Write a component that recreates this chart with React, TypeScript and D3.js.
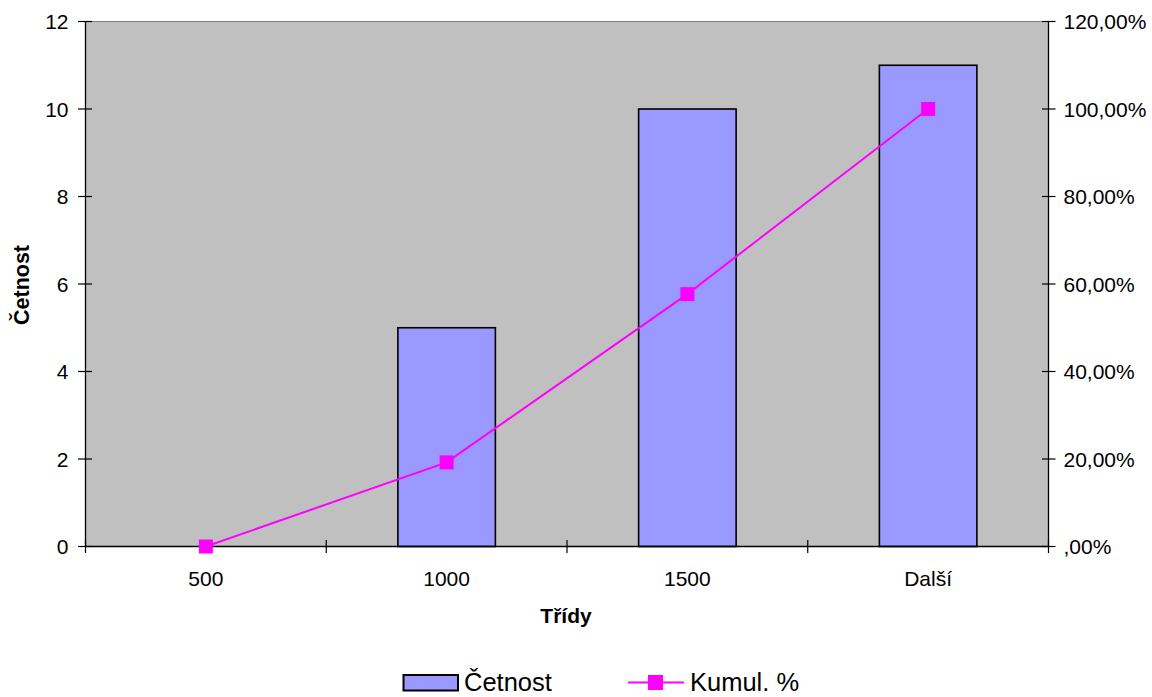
import React from "react";
import * as d3 from "d3";

// Frequency histogram with cumulative percentage (Pareto-style)
const categories: string[] = ["500", "1000", "1500", "Další"];
const counts: number[] = [0, 5, 10, 11];
const cumulativePct: number[] = [0, 19.23, 57.69, 100];

const leftTicks: number[] = [0, 2, 4, 6, 8, 10, 12];
const rightTicks: number[] = [0, 20, 40, 60, 80, 100, 120];
const rightTickLabels: string[] = [",00%", "20,00%", "40,00%", "60,00%", "80,00%", "100,00%", "120,00%"];

const W = 1152;
const H = 697;
const plot = { left: 85.5, right: 1048.5, top: 21.5, bottom: 546.5 };

const FONT = "'Liberation Sans', Arial, Helvetica, sans-serif";
const BAR_FILL = "#9999FF";
const LINE_COLOR = "#FF00FF";
const PLOT_BG = "#C0C0C0";

export default function App() {
  const x = d3.scaleBand<string>().domain(categories).range([plot.left, plot.right]).padding(0);
  const yLeft = d3.scaleLinear().domain([0, 12]).range([plot.bottom, plot.top]);
  const yRight = d3.scaleLinear().domain([0, 120]).range([plot.bottom, plot.top]);

  const bw = x.bandwidth();
  const barW = bw * 0.405;
  const center = (c: string) => (x(c) as number) + bw / 2;

  const line = d3
    .line<number>()
    .x((_, i) => center(categories[i]))
    .y((d) => yRight(d));

  const boundaries = [...categories.map((c) => x(c) as number), plot.right];
  const marker = 14;

  return (
    <svg width={W} height={H} style={{ position: "absolute", left: 0, top: 0, background: "#fff" }}>
      {/* plot area */}
      <rect x={plot.left} y={plot.top} width={plot.right - plot.left} height={plot.bottom - plot.top} fill={PLOT_BG} stroke="#808080" strokeWidth={1} />

      {/* bars */}
      {categories.map((c, i) =>
        counts[i] > 0 ? (
          <rect
            key={c}
            x={center(c) - barW / 2}
            y={yLeft(counts[i])}
            width={barW}
            height={yLeft(0) - yLeft(counts[i])}
            fill={BAR_FILL}
            stroke="#000"
            strokeWidth={1.6}
          />
        ) : null
      )}

      {/* axes */}
      <line x1={plot.left} x2={plot.left} y1={plot.top} y2={plot.bottom} stroke="#000" strokeWidth={1.3} />
      <line x1={plot.right} x2={plot.right} y1={plot.top} y2={plot.bottom} stroke="#000" strokeWidth={1.3} />
      <line x1={plot.left} x2={plot.right} y1={plot.bottom} y2={plot.bottom} stroke="#000" strokeWidth={1.3} />

      {/* left axis ticks and labels */}
      {leftTicks.map((t) => (
        <g key={"l" + t}>
          <line x1={plot.left - 7.5} x2={plot.left + 6.5} y1={yLeft(t)} y2={yLeft(t)} stroke="#000" strokeWidth={1.2} />
          <text x={68.5} y={yLeft(t)} dy="0.36em" textAnchor="end" fontFamily={FONT} fontSize={21} fill="#000">
            {t}
          </text>
        </g>
      ))}

      {/* right axis ticks and labels */}
      {rightTicks.map((t, i) => (
        <g key={"r" + t}>
          <line x1={plot.right - 6.5} x2={plot.right + 7} y1={yRight(t)} y2={yRight(t)} stroke="#000" strokeWidth={1.2} />
          <text x={1063.5} y={yRight(t)} dy="0.36em" textAnchor="start" fontFamily={FONT} fontSize={21} fill="#000">
            {rightTickLabels[i]}
          </text>
        </g>
      ))}

      {/* category axis ticks and labels */}
      {boundaries.map((b, i) => (
        <line key={"b" + i} x1={b} x2={b} y1={plot.bottom - 6.5} y2={plot.bottom + 6.5} stroke="#000" strokeWidth={1.2} />
      ))}
      {categories.map((c) => (
        <text key={"c" + c} x={center(c)} y={586} textAnchor="middle" fontFamily={FONT} fontSize={21} fill="#000">
          {c}
        </text>
      ))}

      {/* cumulative line */}
      <path d={line(cumulativePct) || ""} fill="none" stroke={LINE_COLOR} strokeWidth={2} />
      {cumulativePct.map((v, i) => (
        <rect
          key={"m" + i}
          x={center(categories[i]) - marker / 2}
          y={yRight(v) - marker / 2}
          width={marker}
          height={marker}
          fill={LINE_COLOR}
        />
      ))}

      {/* axis titles */}
      <text x={566} y={622.5} textAnchor="middle" fontFamily={FONT} fontSize={21} fontWeight="bold" fill="#000">
        Třídy
      </text>
      <text
        transform="translate(28.5,285) rotate(-90)"
        textAnchor="middle"
        fontFamily={FONT}
        fontSize={21.5}
        fontWeight="bold"
        fill="#000"
      >
        Četnost
      </text>

      {/* legend */}
      <rect x={403.5} y={675} width={54.5} height={15.5} fill={BAR_FILL} stroke="#000" strokeWidth={2} />
      <text x={464} y={691} fontFamily={FONT} fontSize={25.5} fill="#000">
        Četnost
      </text>
      <line x1={628} x2={684} y1={682.5} y2={682.5} stroke={LINE_COLOR} strokeWidth={2} />
      <rect x={648} y={675} width={15} height={15} fill={LINE_COLOR} />
      <text x={690} y={691} fontFamily={FONT} fontSize={25.5} fill="#000">
        Kumul. %
      </text>
    </svg>
  );
}
